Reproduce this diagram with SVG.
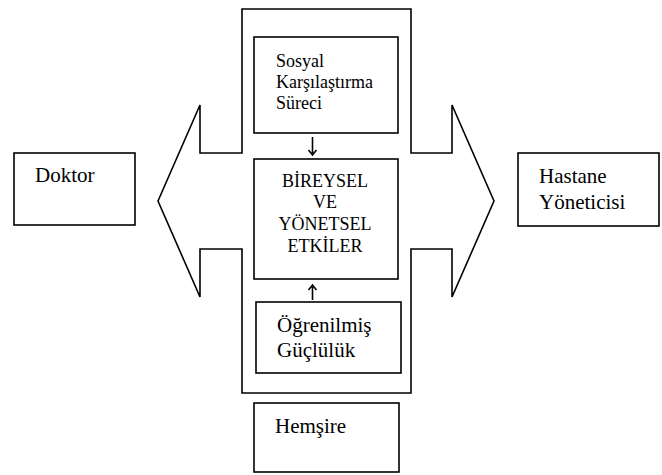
<svg xmlns="http://www.w3.org/2000/svg" width="662" height="475" viewBox="0 0 662 475" font-family="'Liberation Serif', 'Times New Roman', serif">
<style>
.s{fill:none;stroke:#000;stroke-width:1.6}
.b{fill:#fff;stroke:#000;stroke-width:1.6}
text{font-family:'Liberation Serif','Times New Roman',serif;fill:#000}
.m{font-size:18px}
.l{font-size:21px}
.c{text-anchor:middle}
</style>
<g id="cross-arrow">
<polygon class="s" points="242,9 411,9 411,153 452,153 452,105 494,201 452,297 452,249 411,249 411,393 242,393 242,249 200,249 200,297 158,201 200,105 200,153 242,153"/>
</g>
<g id="sosyal">
<rect class="b" x="254" y="37" width="144" height="96"/>
<text class="m" x="276" y="67">Sosyal</text>
<text class="m" x="276" y="88">Karşılaştırma</text>
<text class="m" x="276" y="109">Süreci</text>
</g>
<g id="bireysel">
<rect class="b" x="254" y="159" width="144" height="120"/>
<text class="m c" x="325" y="187">BİREYSEL</text>
<text class="m c" x="325" y="208">VE</text>
<text class="m c" x="325" y="230">YÖNETSEL</text>
<text class="m c" x="325" y="252">ETKİLER</text>
</g>
<g id="ogrenilmis">
<rect class="b" x="256" y="302" width="145" height="71"/>
<text class="l" x="277" y="332">Öğrenilmiş</text>
<text class="l" x="277" y="357">Güçlülük</text>
</g>
<g id="hemsire">
<rect class="b" x="254" y="403" width="145" height="69"/>
<text class="l" x="275" y="433">Hemşire</text>
</g>
<g id="doktor">
<rect class="b" x="14" y="153" width="121" height="72"/>
<text class="l" x="35" y="182">Doktor</text>
</g>
<g id="hastane">
<rect class="b" x="518" y="153" width="141" height="73"/>
<text class="l" x="539" y="183">Hastane</text>
<text class="l" x="539" y="209">Yöneticisi</text>
</g>
<g id="connectors">
<path class="s" stroke-width="1" d="M312.5,137 V155 M308.5,150 L312.5,155 L316.5,150"/>
<path class="s" stroke-width="1" d="M312.5,300 V285 M308.5,290 L312.5,285 L316.5,290"/>
</g>
</svg>
